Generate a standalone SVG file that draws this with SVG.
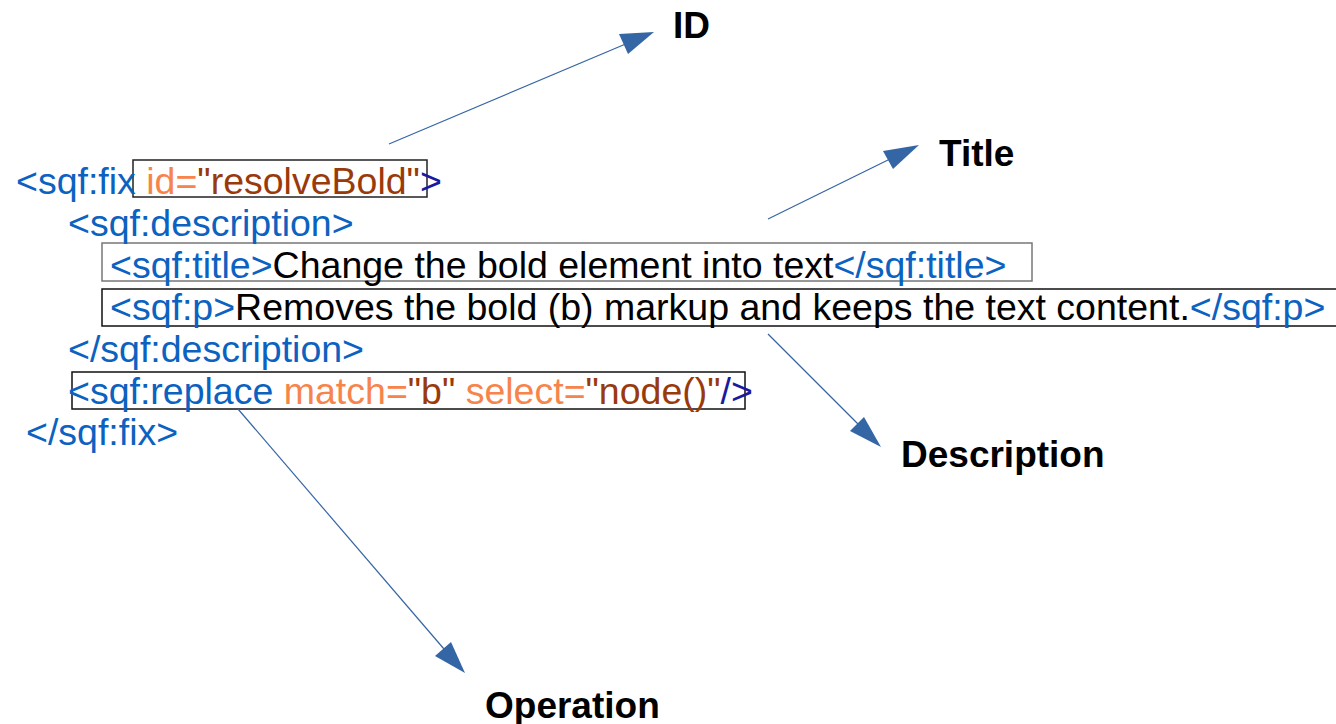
<svg xmlns="http://www.w3.org/2000/svg" width="1336" height="724" viewBox="0 0 1336 724">
<style>
.code{font-family:"Liberation Sans",Arial,sans-serif;font-size:37.5px}
.tag{fill:#0b62c0}
.att{fill:#f7844b}
.val{fill:#9a3a0b}
.end{fill:#1a1aa0}
.txt{fill:#000}
.lbl{font-family:"Liberation Sans",Arial,sans-serif;font-size:37px;font-weight:bold;fill:#000}
.box{fill:none;stroke-width:1.5}
.conn{stroke:#3465a4;stroke-width:1.2;fill:none}
.head{fill:#3465a4}
</style>
<rect width="1336" height="724" fill="#fff"/>
<g id="code">
<rect class="box" x="133" y="160" width="294" height="37" stroke="#222"/>
<rect class="box" x="102" y="243" width="930" height="38" stroke="#777"/>
<rect class="box" x="102" y="289" width="1240" height="37" stroke="#111"/>
<rect class="box" x="72" y="372" width="673" height="37" stroke="#111"/>
<text class="code" x="16" y="194"><tspan class="tag">&lt;sqf:fix</tspan><tspan class="att"> id=</tspan><tspan class="val">"resolveBold"</tspan><tspan class="end">&gt;</tspan></text>
<text class="code tag" x="68" y="236">&lt;sqf:description&gt;</text>
<text class="code" x="110" y="278"><tspan class="tag">&lt;sqf:title&gt;</tspan><tspan class="txt">Change the bold element into text</tspan><tspan class="tag">&lt;/sqf:title&gt;</tspan></text>
<text class="code" x="110" y="320"><tspan class="tag">&lt;sqf:p&gt;</tspan><tspan class="txt">Removes the bold (b) markup and keeps the text content.</tspan><tspan class="tag">&lt;/sqf:p&gt;</tspan></text>
<text class="code tag" x="68" y="362">&lt;/sqf:description&gt;</text>
<text class="code" x="68" y="404"><tspan class="tag">&lt;sqf:replace</tspan><tspan class="att"> match=</tspan><tspan class="val">"b"</tspan><tspan class="att"> select=</tspan><tspan class="val">"node()"</tspan><tspan class="end">/&gt;</tspan></text>
<text class="code tag" x="26" y="445">&lt;/sqf:fix&gt;</text>
</g>
<g id="connectors">
<line class="conn" x1="389" y1="144" x2="628" y2="43"/>
<polygon class="head" points="654,32 619,34 628,54"/>
<line class="conn" x1="768" y1="219" x2="890" y2="159"/>
<polygon class="head" points="919,145 883,151 893,169"/>
<line class="conn" x1="768" y1="334" x2="858" y2="424"/>
<polygon class="head" points="881,447 850,431 864,417"/>
<line class="conn" x1="238" y1="409" x2="444" y2="649"/>
<polygon class="head" points="465,673 435,656 451,642"/>
</g>
<g id="label-id"><text class="lbl" x="673" y="38">ID</text></g>
<g id="label-title"><text class="lbl" x="939" y="166">Title</text></g>
<g id="label-description"><text class="lbl" x="901" y="467">Description</text></g>
<g id="label-operation"><text class="lbl" x="485" y="718">Operation</text></g>
</svg>
